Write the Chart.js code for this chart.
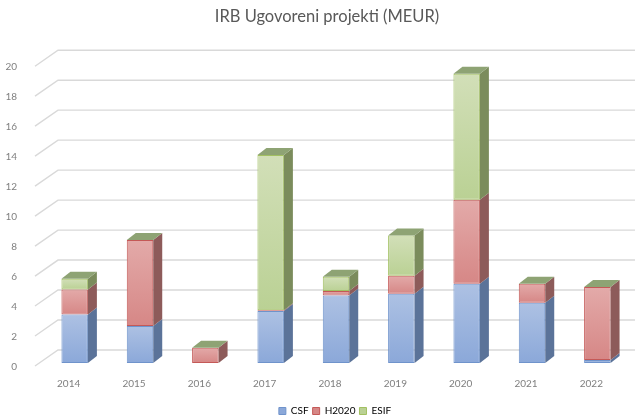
<!DOCTYPE html>
<html>
<head>
<meta charset="utf-8">
<script src="https://cdn.jsdelivr.net/npm/chart.js@4.4.1/dist/chart.umd.min.js"></script>
<style>
  html, body { margin: 0; padding: 0; background: #fff; }
  #wrap { width: 635px; height: 419px; }
</style>
</head>
<body>
<div id="wrap"><canvas id="chart" width="635" height="419"></canvas></div>
<script>
// values (MEUR)
var years = ['2014', '2015', '2016', '2017', '2018', '2019', '2020', '2021', '2022'];
var csf   = [3.24, 2.47, 0, 3.47, 4.51, 4.62, 5.29, 4.02, 0.2];
var h2020 = [1.67, 5.73, 1.02, 0.05, 0.29, 1.2, 5.6, 1.27, 4.87];
var esif  = [0.71, 0, 0, 10.35, 0.95, 2.69, 8.4, 0, 0];
var seriesNames = ['CSF', 'H2020', 'ESIF'];

const Y_MAX = 20;
const Y_STEP = 2;

// front face gradient (top, bottom), border, side face
var faceTop = ['#adc1e3', '#e3aaa9', '#d2dfb8'];
var faceBottom = ['#8ba8d9', '#d68786', '#bad194'];
var borders = ['#6f93cb', '#c45957', '#a2c061'];
var sides = ['#5b7399', '#8d5b5a', '#7b8c5c'];
var capColor = '#8ea374';

const DX = 9, DY = -7;     // bar depth
const WX = 23, WY = -16;   // wall depth

var allSeries = [csf, h2020, esif];

function faceFill(i) {
  return function(ctx) {
    let chart = ctx.chart;
    let y = chart.scales.y;
    if (!y || !chart.chartArea) return faceTop[i];
    let start = 0;
    for (let k = 0; k < i; k++) start += allSeries[k][ctx.dataIndex];
    let end = start + allSeries[i][ctx.dataIndex];
    let top = y.getPixelForValue(end);
    let bottom = y.getPixelForValue(start);
    if (!isFinite(top) || bottom - top < 1) return faceTop[i];
    let g = chart.ctx.createLinearGradient(0, top, 0, bottom);
    g.addColorStop(0, faceTop[i]);
    g.addColorStop(1, faceBottom[i]);
    return g;
  };
}

var wallGrid = {
  id: 'wallGrid',
  beforeDatasetsDraw(chart) {
    let ctx = chart.ctx;
    let y = chart.scales.y;
    let left = chart.chartArea.left;
    ctx.save();
    ctx.strokeStyle = '#d9d9d9';
    ctx.lineWidth = 1.4;
    y.ticks.forEach(function(t) {
      let py = y.getPixelForValue(t.value);
      ctx.beginPath();
      ctx.moveTo(left - 7, py + 3);
      ctx.lineTo(left - 7 + WX, py + 3 + WY);
      ctx.lineTo(chart.width, py + 3 + WY);
      ctx.stroke();
    });
    ctx.restore();
  }
};

var barDepth = {
  id: 'barDepth',
  afterDatasetsDraw(chart) {
    let ctx = chart.ctx;
    let last = chart.data.datasets.length - 1;
    ctx.save();
    chart.data.datasets.forEach(function(ds, i) {
      let meta = chart.getDatasetMeta(i);
      meta.data.forEach(function(bar) {
        let p = bar.getProps(['x', 'y', 'base', 'width'], true);
        let l = p.x - p.width / 2, r = p.x + p.width / 2;
        if (p.base - p.y > 0.2) {
          ctx.fillStyle = sides[i];
          ctx.beginPath();
          ctx.moveTo(r, p.y);
          ctx.lineTo(r + DX, p.y + DY);
          ctx.lineTo(r + DX, p.base + DY);
          ctx.lineTo(r, p.base);
          ctx.closePath();
          ctx.fill();
        }
        if (i === last) {
          ctx.fillStyle = capColor;
          ctx.beginPath();
          ctx.moveTo(l, p.y);
          ctx.lineTo(l + DX, p.y + DY);
          ctx.lineTo(r + DX, p.y + DY);
          ctx.lineTo(r, p.y);
          ctx.closePath();
          ctx.fill();
        }
      });
    });
    ctx.restore();
  }
};

// title and legend sit a bit right of centre in the original
var nudge = {
  id: 'nudge',
  afterLayout(chart) {
    if (chart.titleBlock) { chart.titleBlock.left += 12; chart.titleBlock.right += 12; }
    if (chart.legend) { chart.legend.left += 20; chart.legend.right += 20; }
  }
};

var datasets = allSeries.map(function(vals, i) {
  return {
    label: seriesNames[i],
    data: vals,
    backgroundColor: faceFill(i),
    borderColor: borders[i],
    borderWidth: 1,
    borderSkipped: false,
    barPercentage: 0.5,
    categoryPercentage: 0.81
  };
});

Chart.defaults.font.family = 'Lato, "Open Sans", sans-serif';

new Chart(document.getElementById('chart'), {
  type: 'bar',
  data: { labels: years, datasets: datasets },
  options: {
    responsive: false,
    animation: false,
    layout: { padding: { top: 0, right: 5, bottom: -7, left: 0 } },
    plugins: {
      title: {
        display: true,
        text: 'IRB Ugovoreni projekti (MEUR)',
        color: '#595959',
        font: { size: 16.5, weight: 'normal' },
        padding: { top: 7, bottom: 36.4 }
      },
      legend: {
        position: 'bottom',
        labels: {
          color: '#595959',
          font: { size: 10 },
          boxWidth: 7,
          boxHeight: 7,
          padding: 4,
          generateLabels: function(chart) {
            return seriesNames.map(function(n, i) {
              return {
                text: n,
                fillStyle: faceBottom[i],
                strokeStyle: borders[i],
                lineWidth: 1,
                datasetIndex: i
              };
            });
          }
        }
      },
      tooltip: { enabled: false }
    },
    scales: {
      x: {
        stacked: true,
        grid: { display: false },
        border: { display: false },
        ticks: { color: '#7f7f7f', font: { size: 10 }, padding: 7, labelOffset: -6 },
        afterFit: function(s) { s.height = 39; }
      },
      y: {
        stacked: true,
        min: 0,
        max: Y_MAX,
        grid: { display: false },
        border: { display: false },
        ticks: { stepSize: Y_STEP, color: '#7f7f7f', font: { size: 10 }, padding: 17, labelOffset: 4 },
        afterFit: function(s) { s.width = 42; }
      }
    }
  },
  plugins: [wallGrid, barDepth, nudge]
});
</script>
</body>
</html>
